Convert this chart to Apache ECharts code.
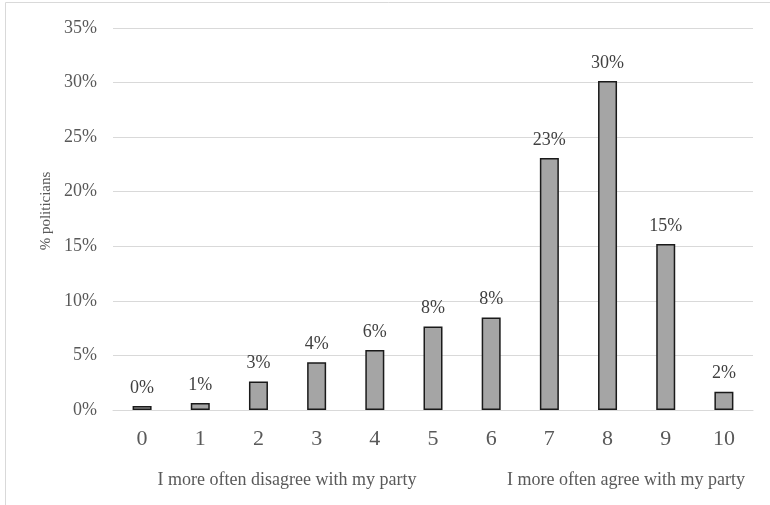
<!DOCTYPE html>
<html>
<head>
<meta charset="utf-8">
<script src="https://cdn.jsdelivr.net/npm/echarts@6/dist/echarts.min.js"></script>
<style>html,body{margin:0;padding:0;background:#fff}#c{width:770px;height:505px}</style>
</head>
<body>
<div id="c"></div>
<script>
const categories = ["0","1","2","3","4","5","6","7","8","9","10"];
const values = [0.37, 0.64, 2.6, 4.37, 5.5, 7.64, 8.47, 23.1, 30.15, 15.2, 1.68];
const yTicks = [0, 5, 10, 15, 20, 25, 30, 35];
const leftNote = "I more often disagree with my party";
const rightNote = "I more often agree with my party";
const yName = "% politicians";

const chart = echarts.init(document.getElementById('c'));
const serif = "'Liberation Serif', 'Times New Roman', serif";
chart.setOption({
  animation: false,
  grid: {left: 113, right: 17, top: 28, bottom: 95},
  graphic: [
    {type: 'rect', shape: {x: 5.5, y: 2.5, width: 800, height: 520}, style: {fill: 'none', stroke: '#d9d9d9', lineWidth: 1}, silent: true},
    {type: 'text', x: 287, y: 480, style: {text: leftNote, font: "18px " + serif, fill: '#595959', textAlign: 'center', textVerticalAlign: 'middle'}},
    {type: 'text', x: 626, y: 480, style: {text: rightNote, font: "18px " + serif, fill: '#595959', textAlign: 'center', textVerticalAlign: 'middle'}},
    {type: 'text', x: 46, y: 211, rotation: Math.PI / 2, style: {text: yName, font: "15px " + serif, fill: '#595959', textAlign: 'center', textVerticalAlign: 'middle'}}
  ],
  xAxis: {
    type: 'category', data: categories,
    axisLine: {show: true, lineStyle: {color: '#d9d9d9', width: 1}},
    axisTick: {show: false},
    axisLabel: {fontFamily: serif, fontSize: 22, color: '#595959', margin: 18}
  },
  yAxis: {
    type: 'value', min: yTicks[0], max: yTicks[yTicks.length - 1], interval: 5,
    axisLine: {show: false}, axisTick: {show: false},
    splitLine: {lineStyle: {color: '#d9d9d9', width: 1}},
    axisLabel: {fontFamily: serif, fontSize: 18, color: '#595959', margin: 16, formatter: v => v + '%'}
  },
  series: [{
    type: 'bar', data: values, barWidth: 19,
    itemStyle: {color: '#a5a5a5', borderColor: '#1a1a1a', borderWidth: 1.5},
    label: {show: true, position: 'top', distance: 9, fontFamily: serif, fontSize: 18, color: '#404040',
      formatter: p => Math.round(p.value) + '%'}
  }]
});
</script>
</body>
</html>
